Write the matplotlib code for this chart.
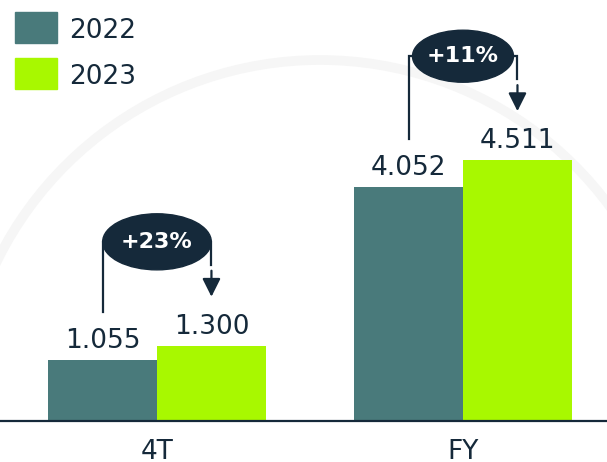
import matplotlib
matplotlib.use("Agg")
from matplotlib import pyplot as plt
from matplotlib.patches import Ellipse, Arc, Rectangle

# data
categories = ["4T", "FY"]
years = ["2022", "2023"]
values_2022 = [1.055, 4.052]
values_2023 = [1.300, 4.511]
growth = ["+23%", "+11%"]

teal = "#497a7b"
lime = "#a8f800"
navy = "#15293a"

W, H = 607, 462
fig = plt.figure(figsize=(W / 100, H / 100), dpi=100)
ax = fig.add_axes([0, 41 / H, 1, 421 / H])
ax.set_facecolor("none")

# faint background arc
fig.add_artist(Arc((3.2, 0.42), 7.2, 7.2, theta1=15, theta2=165, color="#f6f6f6",
                   lw=7, transform=fig.dpi_scale_trans, zorder=-5))

w = 0.356
x = [0, 1]
b1 = ax.bar([i - w / 2 for i in x], values_2022, w, color=teal)
b2 = ax.bar([i + w / 2 for i in x], values_2023, w, color=lime)

for bars, vals in ((b1, values_2022), (b2, values_2023)):
    for r, v in zip(bars, vals):
        ax.annotate(f"{v:.3f}", (r.get_x() + r.get_width() / 2, v), xytext=(0, 8.5),
                    textcoords="offset points", ha="center", va="baseline",
                    fontsize=19, color=navy)

# growth callouts
for i in range(len(categories)):
    xl = x[i] - w / 2
    xr = x[i] + w / 2
    v1 = values_2022[i]
    v2 = values_2023[i]
    ey = max(v1, v2) + 1.8
    ax.plot([xl, xl, xr, xr], [v1 + 0.83, ey, ey, ey - 0.4], color=navy, lw=1.6,
            solid_joinstyle="miter", zorder=3)
    ax.annotate("", xy=(xr, v2 + 0.85), xytext=(xr, ey - 0.5),
                arrowprops=dict(arrowstyle="-|>,head_length=1.1,head_width=0.55",
                                color=navy, lw=1.6, shrinkA=0, shrinkB=0), zorder=3)
    ew = 0.355 if i == 0 else 0.33
    eh = 0.97 if i == 0 else 0.9
    ax.add_patch(Ellipse((x[i], ey), ew, eh, color=navy, zorder=4))
    ax.text(x[i], ey, growth[i], ha="center", va="center", fontsize=16,
            fontweight="bold", color="white", zorder=5)

ax.set_xlim(-0.513, 1.4706)
ax.set_ylim(0, 421 / 57.8)
ax.set_xticks(x, categories)
ax.tick_params(axis="x", length=0, pad=13, labelsize=19, labelcolor=navy)
ax.set_yticks([])
for s in ["top", "right", "left"]:
    ax.spines[s].set_visible(False)
ax.spines["bottom"].set_color(navy)
ax.spines["bottom"].set_linewidth(1.6)

# legend
for k, (yr, col) in enumerate(zip(years, [teal, lime])):
    top = 12 + k * 46
    fig.add_artist(Rectangle((15 / W, 1 - (top + 31) / H), 42 / W, 31 / H,
                             color=col, transform=fig.transFigure))
    fig.text(69 / W, 1 - (top + 15.5) / H, yr, ha="left", va="center_baseline",
             fontsize=19, color=navy)

fig.savefig("out.png", dpi=100)
